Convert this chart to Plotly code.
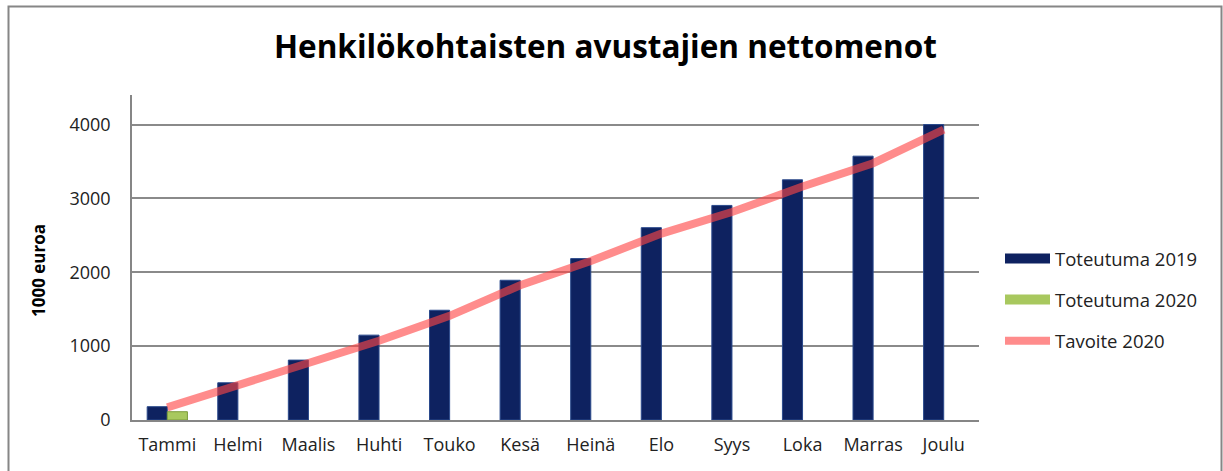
import plotly.graph_objects as go

months = ["Tammi", "Helmi", "Maalis", "Huhti", "Touko", "Kesä",
          "Heinä", "Elo", "Syys", "Loka", "Marras", "Joulu"]
toteutuma_2019 = [180, 504, 811, 1149, 1486, 1892, 2185, 2604, 2905, 3252, 3572, 4000]
toteutuma_2020 = [112, None, None, None, None, None, None, None, None, None, None, None]
tavoite_2020 = [170, 473, 775, 1072, 1410, 1824, 2153, 2523, 2815, 3162, 3477, 3932]

W, H = 1223, 471
ML, MR, MT, MB = 132, 244, 95, 51
pw, ph = W - ML - MR, H - MT - MB

font = "'Open Sans', Carlito, Calibri, sans-serif"
c2019, c2020, cline = "#0E2260", "#A8C85E", "rgba(255,70,70,0.62)"

fig = go.Figure()
fig.add_trace(go.Bar(
    x=months, y=toteutuma_2019, name="Toteutuma 2019",
    marker=dict(color=c2019, line=dict(color="#2B4A8C", width=1)),
    showlegend=False,
))
fig.add_trace(go.Bar(
    x=months, y=toteutuma_2020, name="Toteutuma 2020",
    marker=dict(color=c2020, line=dict(color="#7A9A3A", width=1)),
    showlegend=False,
))
fig.add_trace(go.Scatter(
    x=months, y=tavoite_2020, name="Tavoite 2020", mode="lines",
    line=dict(color=cline, width=8), showlegend=False,
))
# legend entries (wide swatches like the original)
for nm, col, w, g in [("Toteutuma 2019", c2019, 10, "a"),
                      ("Toteutuma 2020", c2020, 10, "b"),
                      ("Tavoite 2020", cline, 8, "c")]:
    fig.add_trace(go.Scatter(x=[months[0]], y=[None], name=nm, mode="lines",
                             line=dict(color=col, width=w), legendgroup=g))

def px_x(p):
    return (p - ML) / pw

def px_y(p):
    return (H - MB - p) / ph

fig.update_layout(
    width=W, height=H,
    margin=dict(l=ML, r=MR, t=MT, b=MB, autoexpand=False),
    paper_bgcolor="white", plot_bgcolor="white",
    barmode="group", bargap=0.43, bargroupgap=0,
    font=dict(family=font, size=18, color="#222222"),
    title=dict(text="<b>Henkilökohtaisten avustajien nettomenot</b>",
               x=0.495, xanchor="center", y=1 - 47 / H, yanchor="middle",
               font=dict(size=31.5, color="black", family=font)),
    showlegend=True,
    legend=dict(x=px_x(1000), y=px_y(240), xanchor="left", yanchor="top",
                font=dict(size=18.5, color="#222222"), tracegroupgap=14,
                itemwidth=45, bgcolor="rgba(0,0,0,0)"),
    xaxis=dict(showgrid=False, showline=True, linecolor="#868686", linewidth=1.5,
               ticks="", tickfont=dict(size=18), ticklabelstandoff=8,
               automargin=False),
    yaxis=dict(range=[0, 4400], tickvals=[0, 1000, 2000, 3000, 4000],
               showgrid=True, gridcolor="#8A8A8A", gridwidth=1.5,
               showline=True, linecolor="#868686", linewidth=1.5,
               ticks="", zeroline=False, tickfont=dict(size=18),
               ticklabelstandoff=16, automargin=False),
    annotations=[dict(text="<b>1000 euroa</b>", textangle=-90,
                      xref="paper", yref="paper", x=px_x(38), y=px_y(271),
                      xanchor="center", yanchor="middle", showarrow=False,
                      font=dict(size=17, color="black", family=font))],
    shapes=[dict(type="rect", xref="paper", yref="paper",
                 x0=px_x(8.5), x1=px_x(1221.5), y0=px_y(480), y1=px_y(6.5),
                 line=dict(color="#868686", width=2), fillcolor="rgba(0,0,0,0)",
                 layer="below")],
)

fig.write_html("out.html", config={"displayModeBar": False},
               post_script="document.body.style.margin='0';document.body.style.padding='0';")
